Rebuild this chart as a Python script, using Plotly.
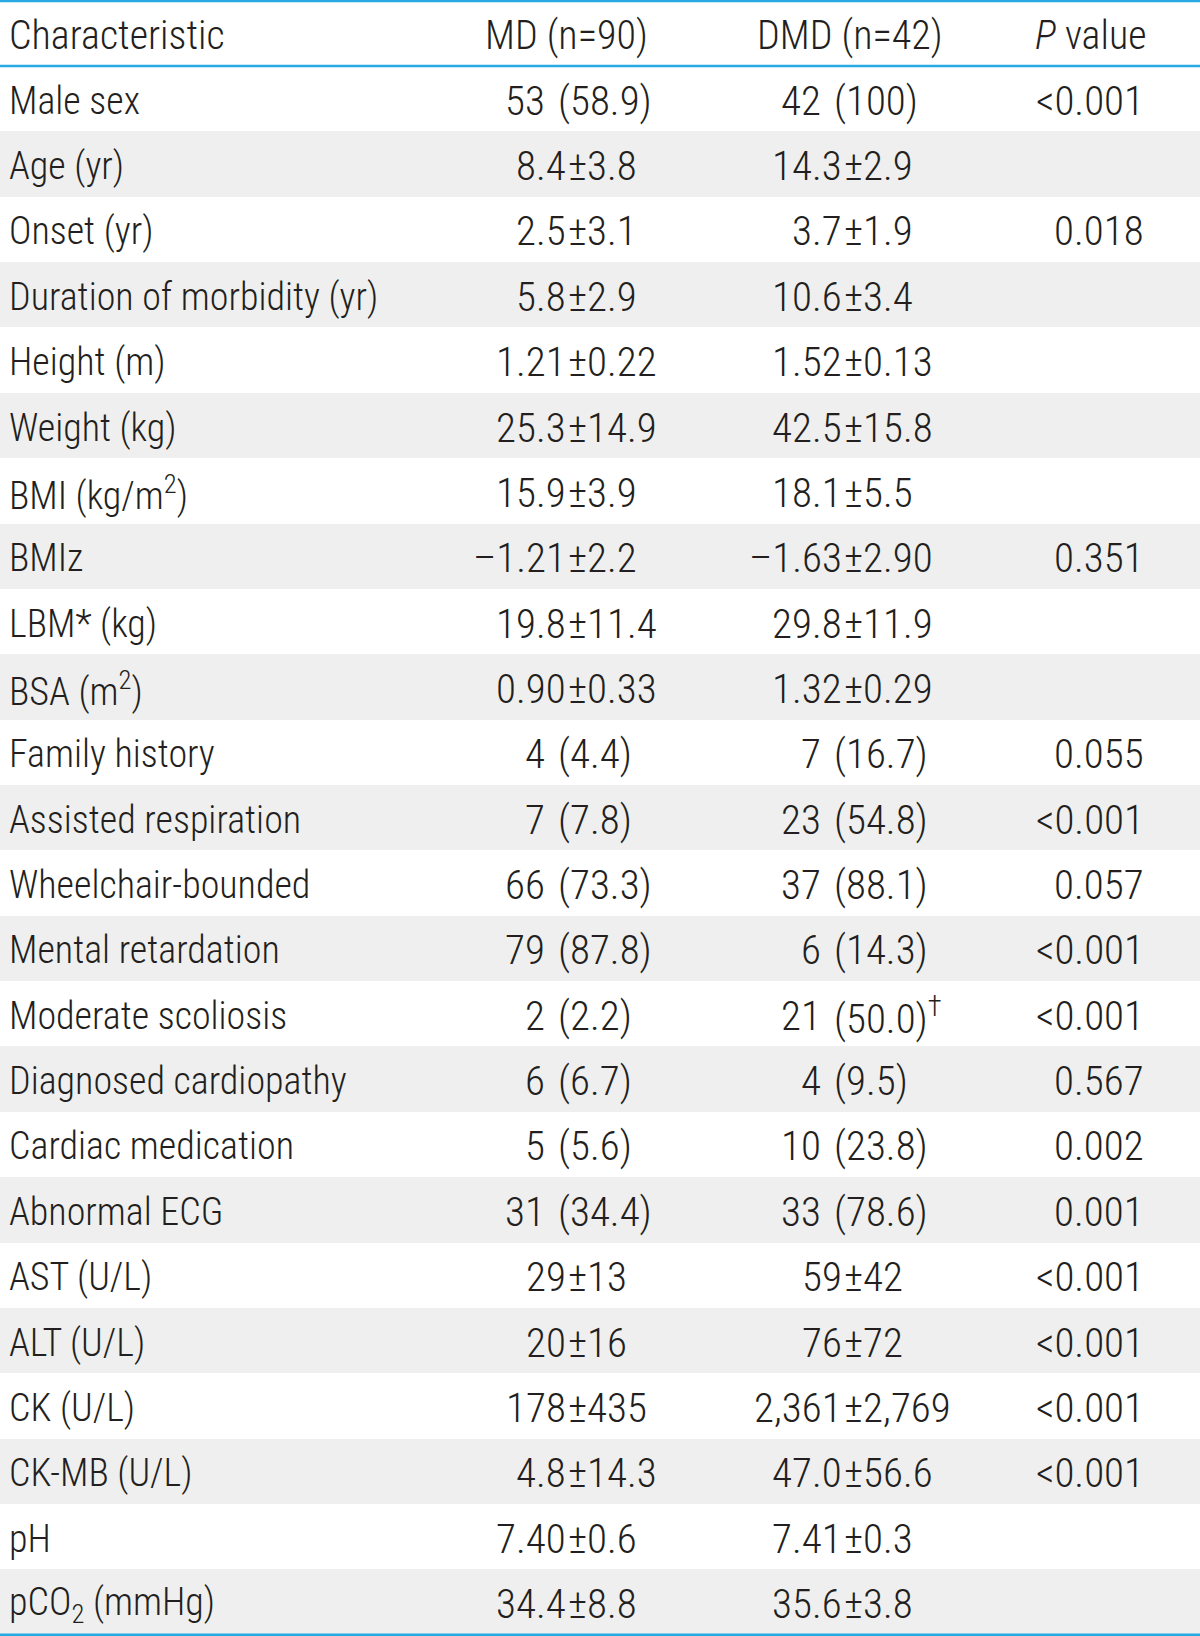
import plotly.graph_objects as go

# ---------------- data ----------------
headers = ["Characteristic", "MD (n=90)", "DMD (n=42)", "<i>P</i> value"]

characteristics = [
    "Male sex", "Age (yr)", "Onset (yr)", "Duration of morbidity (yr)", "Height (m)",
    "Weight (kg)", "BMI (kg/m<sup>2</sup>)", "BMIz", "LBM* (kg)", "BSA (m<sup>2</sup>)",
    "Family history", "Assisted respiration", "Wheelchair-bounded", "Mental retardation",
    "Moderate scoliosis", "Diagnosed cardiopathy", "Cardiac medication", "Abnormal ECG",
    "AST (U/L)", "ALT (U/L)", "CK (U/L)", "CK-MB (U/L)", "pH", "pCO<sub>2</sub> (mmHg)",
]

md_values = [
    "53 (58.9)", "8.4±3.8", "2.5±3.1", "5.8±2.9", "1.21±0.22",
    "25.3±14.9", "15.9±3.9", "–1.21±2.2", "19.8±11.4", "0.90±0.33",
    "4 (4.4)", "7 (7.8)", "66 (73.3)", "79 (87.8)",
    "2 (2.2)", "6 (6.7)", "5 (5.6)", "31 (34.4)",
    "29±13", "20±16", "178±435", "4.8±14.3", "7.40±0.6", "34.4±8.8",
]

dmd_values = [
    "42 (100)", "14.3±2.9", "3.7±1.9", "10.6±3.4", "1.52±0.13",
    "42.5±15.8", "18.1±5.5", "–1.63±2.90", "29.8±11.9", "1.32±0.29",
    "7 (16.7)", "23 (54.8)", "37 (88.1)", "6 (14.3)",
    "21 (50.0)<sup>†</sup>", "4 (9.5)", "10 (23.8)", "33 (78.6)",
    "59±42", "76±72", "2,361±2,769", "47.0±56.6", "7.41±0.3", "35.6±3.8",
]

p_values = [
    "<0.001", "", "0.018", "", "",
    "", "", "0.351", "", "",
    "0.055", "<0.001", "0.057", "<0.001",
    "<0.001", "0.567", "0.002", "0.001",
    "<0.001", "<0.001", "<0.001", "<0.001", "", "",
]

# ---------------- style / layout constants ----------------
W, H = 1200, 1636
FONT = "Liberation Sans Narrow, Noto Sans Condensed, Roboto Condensed, Liberation Sans, Arial, sans-serif"
SIZE_HEAD = 40
SIZE_LABEL = 38
SIZE_VALUE = 41
WEIGHT = 300
TXT = "#231f20"
STRIPE = "#efefef"
BLUE = "#27a9e1"

X_LABEL = 8
MD_PM, MD_PAREN = 567, 557
DMD_PM, DMD_PAREN = 843, 833
PAREN_GAP = 11
P_RIGHT = 1145
HEAD_X = [X_LABEL, 566, 850, 1091]
YSHIFT = -2

n = len(characteristics)
rows = list(range(1, n + 1))

fig = go.Figure()

# striped background rows (every other data row)
stripe_rows = [r for r in rows if r % 2 == 0]
fig.add_trace(go.Bar(
    y=stripe_rows, x=[W] * len(stripe_rows), base=0, orientation="h", width=1,
    marker=dict(color=STRIPE, line=dict(width=0)), hoverinfo="skip", showlegend=False,
))

annotations = []


def txt(x, y, s, anchor, size):
    annotations.append(dict(
        x=x, y=y, xref="x", yref="y", text=s, showarrow=False, xanchor=anchor,
        yanchor="middle", borderpad=0, yshift=YSHIFT,
        font=dict(family=FONT, size=size, color=TXT, weight=WEIGHT),
    ))


def aligned(s, x_pm, x_paren, y):
    """Place a value so that '±' or '(' line up down the column."""
    if "±" in s:
        left, right = s.split("±", 1)
        txt(x_pm, y, left, "right", SIZE_VALUE)
        txt(x_pm, y, "±" + right, "left", SIZE_VALUE)
    elif " (" in s:
        left, right = s.split(" (", 1)
        txt(x_paren - PAREN_GAP, y, left, "right", SIZE_VALUE)
        txt(x_paren, y, "(" + right, "left", SIZE_VALUE)
    else:
        txt(x_pm, y, s, "center", SIZE_VALUE)


# header
txt(HEAD_X[0], 0, headers[0], "left", SIZE_HEAD)
for hx, h in zip(HEAD_X[1:], headers[1:]):
    txt(hx, 0, h, "center", SIZE_HEAD)

# body
for r, c, m, d, p in zip(rows, characteristics, md_values, dmd_values, p_values):
    txt(X_LABEL, r, c, "left", SIZE_LABEL)
    aligned(m, MD_PM, MD_PAREN, r)
    aligned(d, DMD_PM, DMD_PAREN, r)
    if p:
        txt(P_RIGHT, r, p, "right", SIZE_VALUE)

shapes = [
    dict(type="line", xref="x", yref="y", x0=0, x1=W, y0=-0.5, y1=-0.5,
         line=dict(color=BLUE, width=3)),
    dict(type="line", xref="x", yref="y", x0=0, x1=W, y0=0.5, y1=0.5,
         line=dict(color=BLUE, width=2.5)),
    dict(type="line", xref="x", yref="y", x0=0, x1=W, y0=n + 0.5, y1=n + 0.5,
         line=dict(color=BLUE, width=2.5)),
]

fig.update_layout(
    width=W, height=H, margin=dict(l=0, r=0, t=0, b=0, pad=0),
    paper_bgcolor="white", plot_bgcolor="white", showlegend=False,
    xaxis=dict(range=[0, W], visible=False, fixedrange=True),
    yaxis=dict(range=[n + 0.52, -0.51], visible=False, fixedrange=True),
    annotations=annotations, shapes=shapes, bargap=0,
)

fig.write_html(
    "out.html",
    config={"displayModeBar": False, "staticPlot": True},
    post_script="document.body.style.margin='0px';document.body.style.padding='0px';",
)
